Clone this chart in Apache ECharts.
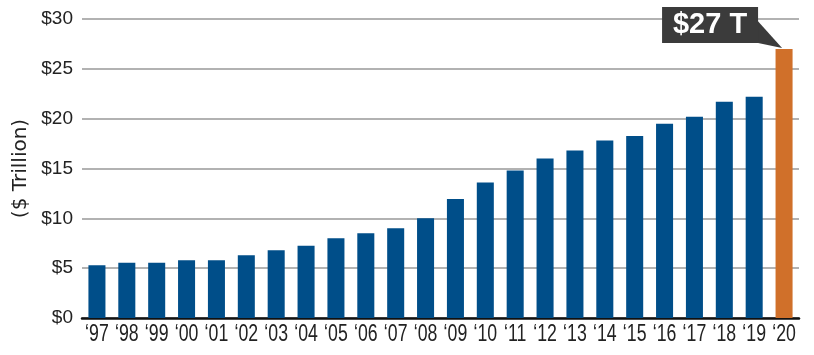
<!DOCTYPE html>
<html>
<head>
<meta charset="utf-8">
<script src="https://cdn.jsdelivr.net/npm/echarts@6/dist/echarts.min.js"></script>
<style>
    html, body { margin: 0; padding: 0; background: #fff; }
    #chart { width: 814px; height: 355px; }
</style>
</head>
<body>
<div id="chart"></div>
<script>
// fiscal years, shown as '97 ... '20
var years = ['97', '98', '99', '00', '01', '02', '03', '04', '05', '06', '07', '08',
    '09', '10', '11', '12', '13', '14', '15', '16', '17', '18', '19', '20'];
// debt, $ trillion
var debt = [5.3, 5.55, 5.55, 5.8, 5.8, 6.3, 6.8, 7.25, 8.0, 8.5, 9.0, 10.0,
    11.95, 13.6, 14.8, 16.0, 16.8, 17.8, 18.25, 19.5, 20.2, 21.7, 22.2, 27.0];
var calloutText = '$27 T';

var blue = '#004e89';
var orange = '#d0702a';

var barData = [];
for (var i = 0; i < debt.length; i++) {
    if (i === debt.length - 1) {
        barData.push({value: debt[i], itemStyle: {color: orange}});
    } else {
        barData.push(debt[i]);
    }
}

var chart = echarts.init(document.getElementById('chart'));

var option = {
    animation: false,
    grid: {
        left: 82,
        right: 15,
        top: 19,
        bottom: 37
    },
    xAxis: {
        type: 'category',
        data: years,
        axisLine: {lineStyle: {color: '#111', width: 2.5}},
        axisTick: {show: false},
        // labels drawn below as condensed graphic text
        axisLabel: {show: false}
    },
    yAxis: {
        type: 'value',
        min: 0,
        max: 30,
        interval: 5,
        name: '($ Trillion)',
        nameLocation: 'middle',
        nameGap: 51,
        nameTextStyle: {
            fontFamily: '"DejaVu Sans", sans-serif',
            fontSize: 20,
            color: '#222'
        },
        axisLine: {show: false},
        axisTick: {show: false},
        axisLabel: {
            formatter: '${value}',
            fontFamily: '"Liberation Sans", Arial, sans-serif',
            fontSize: 19,
            color: '#222',
            margin: 9
        },
        splitLine: {lineStyle: {color: '#999', width: 1.5}}
    },
    series: [
        {
            type: 'bar',
            data: barData,
            barWidth: '57%',
            itemStyle: {color: blue}
        }
    ]
};

chart.setOption(option);

var graphics = [];

// condensed year labels under each bar
for (var j = 0; j < years.length; j++) {
    var pt = chart.convertToPixel({xAxisIndex: 0, yAxisIndex: 0}, [j, 0]);
    graphics.push({
        type: 'text',
        x: pt[0],
        y: pt[1] + 5,
        scaleX: 0.77,
        style: {
            text: '\u2018' + years[j],
            fill: '#222',
            font: '23px "Liberation Sans", Arial, sans-serif',
            align: 'center',
            verticalAlign: 'top'
        }
    });
}

// callout box pointing at the last bar
var last = debt.length - 1;
var p = chart.convertToPixel({seriesIndex: 0}, [last, debt[last]]);
var cx = p[0], ty = p[1];
graphics.push(
    {
        type: 'polygon',
        shape: {points: [[cx - 29, ty - 31], [cx - 26, ty - 6], [cx - 2, ty - 1]]},
        style: {fill: '#3b3b3b'},
        z: 100
    },
    {
        type: 'rect',
        shape: {x: cx - 122, y: ty - 42, width: 96, height: 36},
        style: {fill: '#3b3b3b'},
        z: 100
    },
    {
        type: 'text',
        x: cx - 74,
        y: ty - 24,
        style: {
            text: calloutText,
            fill: '#fff',
            font: 'bold 29px "Liberation Sans", Arial, sans-serif',
            align: 'center',
            verticalAlign: 'middle'
        },
        z: 101
    }
);

chart.setOption({graphic: graphics});
</script>
</body>
</html>
